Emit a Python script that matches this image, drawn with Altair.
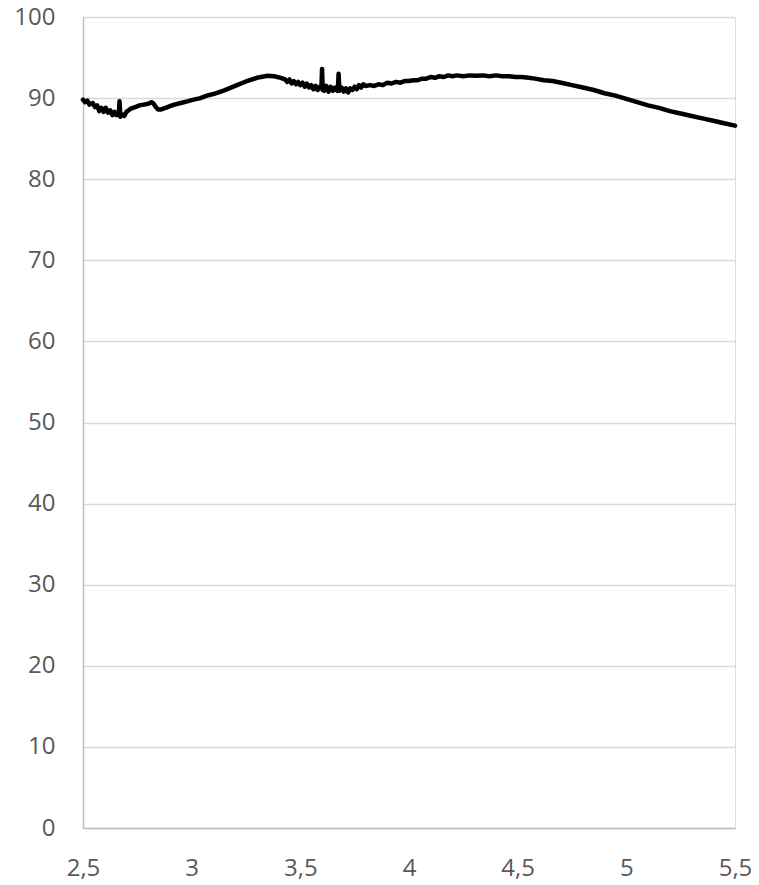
import altair as alt
import pandas as pd

x_vals = [
    2.50, 2.51, 2.52, 2.53, 2.545, 2.555, 2.565, 2.575, 2.585, 2.595,
    2.605, 2.615, 2.625, 2.635, 2.645, 2.655, 2.665, 2.668, 2.672, 2.68,
    2.69, 2.70, 2.71, 2.72, 2.74, 2.76, 2.78, 2.80, 2.815, 2.825,
    2.835, 2.845, 2.86, 2.88, 2.90, 2.92, 2.95, 2.98, 3.00, 3.04,
    3.07, 3.10, 3.15, 3.20, 3.25, 3.30, 3.35, 3.38, 3.41, 3.43,
    3.44, 3.45, 3.46, 3.47, 3.48, 3.49, 3.50, 3.51, 3.52, 3.53,
    3.54, 3.55, 3.56, 3.57, 3.58, 3.59, 3.597, 3.600, 3.603, 3.61,
    3.62, 3.63, 3.64, 3.65, 3.66, 3.67, 3.673, 3.676, 3.68, 3.69,
    3.70, 3.71, 3.72, 3.73, 3.74, 3.75, 3.76, 3.77, 3.78, 3.79,
    3.80, 3.82, 3.84, 3.86, 3.88, 3.90, 3.92, 3.94, 3.96, 3.98,
    4.00, 4.02, 4.04, 4.06, 4.08, 4.10, 4.12, 4.14, 4.16, 4.18,
    4.20, 4.22, 4.25, 4.28, 4.31, 4.34, 4.37, 4.40, 4.43, 4.46,
    4.49, 4.52, 4.55, 4.58, 4.62, 4.66, 4.70, 4.75, 4.80, 4.85,
    4.90, 4.95, 5.00, 5.05, 5.10, 5.15, 5.20, 5.25, 5.30, 5.35,
    5.40, 5.45, 5.50,
]

y_vals = [
    89.8, 89.5, 89.7, 89.2, 89.4, 88.9, 89.1, 88.4, 88.8, 88.3,
    88.8, 88.2, 88.5, 87.9, 88.3, 87.9, 88.2, 89.6, 87.7, 88.0,
    87.8, 88.3, 88.5, 88.7, 88.9, 89.1, 89.2, 89.3, 89.5, 89.3,
    88.9, 88.6, 88.6, 88.8, 89.0, 89.2, 89.4, 89.6, 89.75, 90.0,
    90.3, 90.5, 90.95, 91.5, 92.05, 92.5, 92.75, 92.7, 92.5, 92.3,
    92.0, 92.3, 91.8, 92.1, 91.7, 92.0, 91.6, 91.9, 91.4, 91.8,
    91.3, 91.6, 91.1, 91.5, 91.0, 91.4, 91.2, 93.6, 91.0, 90.9,
    91.5, 90.8, 91.4, 90.9, 91.3, 90.9, 91.2, 93.0, 90.9, 91.3,
    90.8, 91.2, 90.7, 91.2, 91.0, 91.4, 91.1, 91.6, 91.3, 91.7,
    91.5, 91.6, 91.5, 91.7, 91.6, 91.9, 91.8, 92.0, 91.9, 92.1,
    92.1, 92.2, 92.2, 92.4, 92.4, 92.6, 92.5, 92.7, 92.6, 92.8,
    92.7, 92.8, 92.7, 92.8, 92.75, 92.8, 92.7, 92.8, 92.7, 92.7,
    92.6, 92.6, 92.5, 92.4, 92.2, 92.1, 91.9, 91.6, 91.3, 91.0,
    90.6, 90.3, 89.9, 89.5, 89.1, 88.8, 88.4, 88.1, 87.8, 87.5,
    87.2, 86.9, 86.6,
]

x_ticks = [2.5, 3.0, 3.5, 4.0, 4.5, 5.0, 5.5]
y_ticks = [0, 10, 20, 30, 40, 50, 60, 70, 80, 90, 100]

df = pd.DataFrame({"x": x_vals, "y": y_vals})

chart = (
    alt.Chart(df)
    .mark_line(color="black", strokeWidth=4.5, strokeJoin="round", strokeCap="round")
    .encode(
        x=alt.X(
            "x:Q",
            scale=alt.Scale(domain=[2.5, 5.5], nice=False, zero=False),
            axis=alt.Axis(
                values=x_ticks,
                title=None,
                grid=False,
                ticks=False,
                domainColor="#bfbfbf",
                domainWidth=1.5,
                labelFont="Open Sans",
                labelFontSize=24,
                labelColor="#595959",
                labelPadding=28,
                labelFlush=False,
                labelExpr="replace(toString(datum.value), '.', ',')",
            ),
        ),
        y=alt.Y(
            "y:Q",
            scale=alt.Scale(domain=[0, 100], nice=False),
            axis=alt.Axis(
                values=y_ticks,
                title=None,
                grid=True,
                gridColor="#d9d9d9",
                gridWidth=1.5,
                ticks=False,
                domainColor="#bfbfbf",
                domainWidth=1.5,
                labelFont="Open Sans",
                labelFontSize=24,
                labelColor="#595959",
                labelPadding=28,
                labelFlush=False,
            ),
        ),
    )
    .properties(
        width=652,
        height=811,
        autosize=alt.AutoSizeParams(type="none"),
        padding={"left": 75, "top": 9, "right": 16, "bottom": 60},
    )
    .configure_view(stroke=None)
    .configure(background="white")
)

chart.save("out.html", embed_options={"renderer": "svg", "actions": False})
